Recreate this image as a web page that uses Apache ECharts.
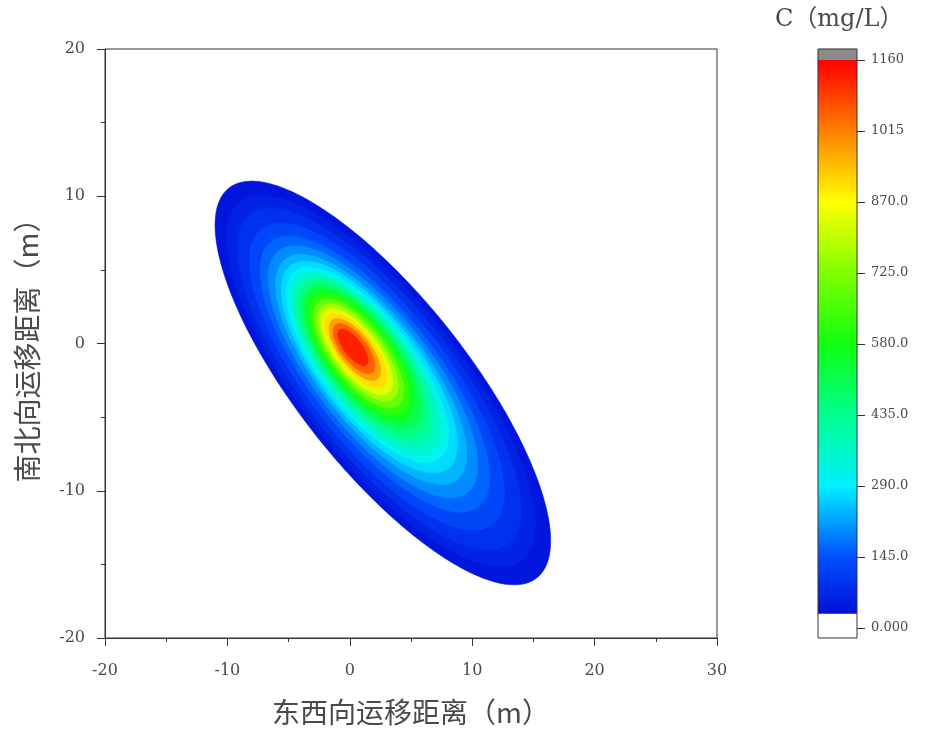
<!DOCTYPE html>
<html>
<head>
<meta charset="utf-8">
<script src="https://cdn.jsdelivr.net/npm/echarts@6/dist/echarts.min.js"></script>
<style>
  html, body { margin: 0; padding: 0; background: #fff; }
  #chart { width: 928px; height: 731px; }
</style>
</head>
<body>
<div id="chart"></div>
<script>
// Concentration contour levels (mg/L) and the ellipse that encloses each level (m)
const levels    = [29, 50, 72.5, 108.75, 145, 181.25, 217.5, 253.75, 290, 326.25, 362.5, 398.75, 435, 471.25, 507.5, 543.75, 580, 652.5, 725, 797.5, 870, 942.5, 1015, 1087.5];
const centerX   = [2.70, 2.55, 2.40, 2.22, 2.05, 1.90, 1.75, 1.60, 1.45, 1.35, 1.25, 1.15, 1.05, 0.98, 0.92, 0.86, 0.80, 0.72, 0.64, 0.56, 0.49, 0.41, 0.34, 0.26];
const centerY   = [-2.68, -2.55, -2.42, -2.25, -2.08, -1.92, -1.76, -1.60, -1.45, -1.34, -1.24, -1.12, -1.00, -0.93, -0.87, -0.81, -0.76, -0.68, -0.61, -0.54, -0.48, -0.41, -0.34, -0.26];
const semiMajor = [18.3, 16.8, 15.4, 13.8, 12.4, 11.3, 10.3, 9.45, 8.7, 8.2, 7.7, 7.25, 6.8, 6.45, 6.1, 5.7, 5.3, 4.8, 4.3, 3.85, 3.33, 2.74, 2.22, 1.63];
const semiMinor = [6.40, 6.00, 5.60, 5.15, 4.70, 4.35, 4.00, 3.75, 3.50, 3.32, 3.15, 3.00, 2.85, 2.72, 2.60, 2.45, 2.30, 2.07, 1.85, 1.63, 1.40, 1.19, 0.96, 0.67];
const plumeAngle = -45;      // orientation of the plume's long axis, degrees from east
const peakValue = 1160;      // top of the colour scale

// Colour bar ticks and their labels
const colorbarTicks  = [0, 145, 290, 435, 580, 725, 870, 1015, 1160];
const colorbarLabels = ['0.000', '145.0', '290.0', '435.0', '580.0', '725.0', '870.0', '1015', '1160'];
const colorbarMin = -20.4, colorbarMax = 1182.5;

// Rainbow colour map: value -> colour
const mapValues = [29, 145, 290, 435, 580, 725, 870, 1015, 1160];
const mapColors = ['#0010d8', '#0050ff', '#00f0ff', '#00ff90', '#10ff10', '#80ff00', '#ffff00', '#ff8000', '#ff0000'];

function hexToRgb(h) {
  return [parseInt(h.slice(1, 3), 16), parseInt(h.slice(3, 5), 16), parseInt(h.slice(5, 7), 16)];
}
function colorAt(v) {
  if (v <= mapValues[0]) return mapColors[0];
  for (let i = 1; i < mapValues.length; i++) {
    if (v <= mapValues[i]) {
      const t = (v - mapValues[i - 1]) / (mapValues[i] - mapValues[i - 1]);
      const a = hexToRgb(mapColors[i - 1]), b = hexToRgb(mapColors[i]);
      const c = a.map((x, k) => Math.round(x + (b[k] - x) * t));
      return 'rgb(' + c.join(',') + ')';
    }
  }
  return mapColors[mapColors.length - 1];
}

const textColor = '#4a4a4a';
const lineColor = '#333';
const tickFont = 'DejaVu Serif';
const cjkFont = 'Noto Sans CJK SC';

const chart = echarts.init(document.getElementById('chart'), null, { renderer: 'canvas' });

const contourData = levels.map((v, i) => [centerX[i], centerY[i], v]);

// One filled ellipse per contour level, outermost first
function renderContour(params, api) {
  const i = params.dataIndex;
  const th = plumeAngle * Math.PI / 180;
  const ct = Math.cos(th), st = Math.sin(th);
  const pts = [];
  const n = 180;
  for (let k = 0; k < n; k++) {
    const t = 2 * Math.PI * k / n;
    const dx = semiMajor[i] * Math.cos(t);
    const dy = semiMinor[i] * Math.sin(t);
    pts.push(api.coord([centerX[i] + dx * ct - dy * st, centerY[i] + dx * st + dy * ct]));
  }
  const upper = i + 1 < levels.length ? levels[i + 1] : peakValue;
  const fill = colorAt((levels[i] + upper) / 2);
  return {
    type: 'polygon',
    shape: { points: pts },
    style: { fill: fill, stroke: fill, lineWidth: 0.6 }
  };
}

// Colour bar: white below the lowest level, gradient, grey cap above the top
function renderColorbar(params, api) {
  const lo = levels[0];
  const pBottom = api.coord([0, colorbarMin]);
  const pTop = api.coord([1, colorbarMax]);
  const pLo = api.coord([0, lo]);
  const pHi = api.coord([1, peakValue]);
  const x = pBottom[0], w = pTop[0] - pBottom[0];
  const stops = mapValues.map((v, k) => ({ offset: (v - lo) / (peakValue - lo), color: mapColors[k] }));
  return {
    type: 'group',
    children: [
      { type: 'rect', shape: { x: x, y: pLo[1], width: w, height: pBottom[1] - pLo[1] }, style: { fill: '#ffffff' } },
      { type: 'rect', shape: { x: x, y: pHi[1], width: w, height: pLo[1] - pHi[1] },
        style: { fill: new echarts.graphic.LinearGradient(0, 1, 0, 0, stops) } },
      { type: 'rect', shape: { x: x, y: pTop[1], width: w, height: pHi[1] - pTop[1] }, style: { fill: '#8a8a8a' } },
      { type: 'rect', shape: { x: x, y: pTop[1], width: w, height: pBottom[1] - pTop[1] },
        style: { fill: 'none', stroke: lineColor, lineWidth: 1 } }
    ]
  };
}

const option = {
  backgroundColor: '#ffffff',
  animation: false,
  graphic: [{
    type: 'text', left: 775, top: 8,
    style: { text: 'C（mg/L）', font: '24px "' + tickFont + '", "' + cjkFont + '"', fill: textColor }
  }],
  grid: [
    { left: 105, top: 49, width: 612, height: 589, show: true, borderColor: lineColor, borderWidth: 1, outerBoundsMode: 'none' },
    { left: 818, top: 60, width: 39, height: 568, outerBoundsMode: 'none' }
  ],
  xAxis: [
    {
      gridIndex: 0, type: 'value', min: -20, max: 30, interval: 10,
      axisLine: { show: true, onZero: false, lineStyle: { color: lineColor } },
      axisTick: { show: true, length: 8, lineStyle: { color: lineColor } },
      minorTick: { show: true, splitNumber: 2, length: 4, lineStyle: { color: lineColor } },
      splitLine: { show: false },
      axisLabel: { fontFamily: tickFont, fontSize: 16, color: textColor, margin: 25 },
      name: '东西向运移距离（m）', nameLocation: 'middle', nameGap: 60,
      nameTextStyle: { fontFamily: cjkFont, fontSize: 28, color: textColor }
    },
    { gridIndex: 1, type: 'value', min: 0, max: 1, show: false }
  ],
  yAxis: [
    {
      gridIndex: 0, type: 'value', min: -20, max: 20, interval: 10,
      axisLine: { show: true, onZero: false, lineStyle: { color: lineColor } },
      axisTick: { show: true, length: 8, lineStyle: { color: lineColor } },
      minorTick: { show: true, splitNumber: 2, length: 4, lineStyle: { color: lineColor } },
      splitLine: { show: false },
      axisLabel: { fontFamily: tickFont, fontSize: 16, color: textColor, margin: 20 },
      name: '南北向运移距离（m）', nameLocation: 'middle', nameGap: 64, nameRotate: 90,
      nameTextStyle: { fontFamily: cjkFont, fontSize: 28, color: textColor }
    },
    {
      gridIndex: 1, type: 'value', position: 'right', min: 0, max: 1160, interval: 145,
      axisLine: { show: false, onZero: false },
      axisTick: { show: true, length: 8, lineStyle: { color: lineColor } },
      splitLine: { show: false },
      axisLabel: {
        fontFamily: tickFont, fontSize: 13, color: textColor, margin: 14,
        formatter: v => { const k = colorbarTicks.indexOf(v); return k >= 0 ? colorbarLabels[k] : ''; }
      }
    }
  ],
  series: [
    {
      type: 'custom', coordinateSystem: 'cartesian2d', xAxisIndex: 0, yAxisIndex: 0,
      data: contourData, encode: { x: 0, y: 1 }, renderItem: renderContour, clip: true, silent: true
    },
    {
      type: 'custom', coordinateSystem: 'cartesian2d', xAxisIndex: 1, yAxisIndex: 1,
      data: [[0, 0]], encode: { x: 0, y: 1 }, renderItem: renderColorbar, clip: false, silent: true
    }
  ]
};

chart.setOption(option);
</script>
</body>
</html>
